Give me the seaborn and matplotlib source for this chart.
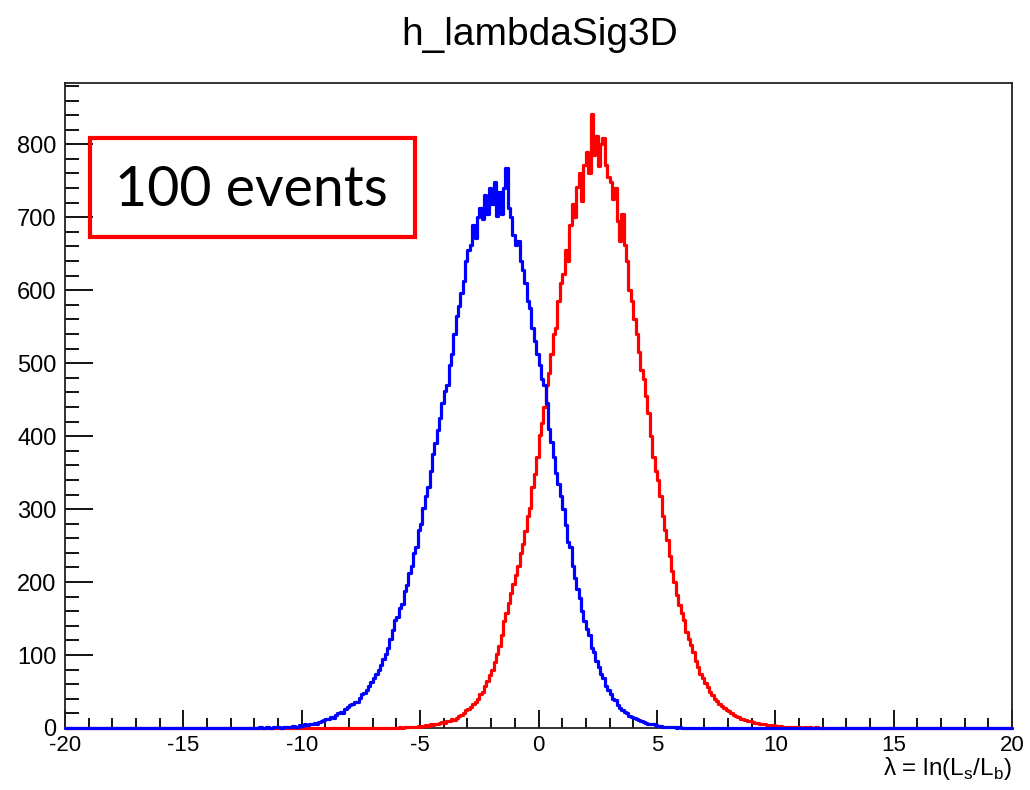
import numpy as np
import pandas as pd
import matplotlib
matplotlib.use('Agg')
import matplotlib.pyplot as plt
import matplotlib.patches as patches
from matplotlib.ticker import MultipleLocator
import seaborn as sns

# Histograma h_lambdaSig3D: 400 bins de largura 0.1 entre -20 e 20
x_min, x_max, n_bins = -20.0, 20.0, 400

# Contagens (bins com conteúdo; o resto é zero)
bkg_start = -12.0
bkg_counts = [
    0, 0, 1, 0, 0, 1, 0, 0, 1, 1,
    1, 0, 2, 1, 2, 1, 3, 2, 2, 4,
    3, 5, 4, 6, 5, 7, 6, 8, 9, 11,
    12, 13, 15, 14, 18, 20, 22, 21, 26, 29,
    31, 33, 36, 35, 41, 46, 48, 52, 57, 63,
    68, 74, 80, 86, 94, 101, 110, 122, 134, 148,
    152, 165, 170, 188, 196, 212, 222, 240, 248, 272,
    280, 302, 318, 330, 352, 376, 390, 408, 425, 446,
    462, 470, 498, 512, 540, 565, 578, 596, 612, 640,
    655, 662, 690, 672, 700, 712, 698, 730, 705, 740,
    718, 748, 702, 735, 705, 740, 768, 712, 700, 676,
    662, 668, 640, 628, 610, 585, 575, 548, 530, 512,
    498, 478, 470, 445, 410, 392, 372, 350, 335, 318,
    300, 278, 255, 248, 222, 206, 190, 178, 160, 146,
    136, 128, 110, 104, 92, 84, 74, 68, 58, 52,
    46, 40, 38, 32, 28, 25, 22, 20, 17, 15,
    14, 12, 11, 9, 8, 7, 6, 5, 5, 4,
    3, 3, 2, 2, 1, 2, 1, 1, 0, 1,
]

sig_start = -6.0
sig_counts = [
    0, 1, 0, 1, 1, 2, 1, 2, 2, 3,
    2, 3, 4, 3, 5, 4, 6, 5, 7, 8,
    7, 9, 10, 12, 11, 14, 16, 18, 21, 24,
    26, 29, 33, 36, 40, 46, 50, 58, 64, 72,
    80, 90, 102, 112, 128, 146, 158, 172, 185, 198,
    210, 222, 240, 252, 270, 290, 302, 330, 348, 372,
    402, 418, 440, 470, 486, 512, 540, 548, 585, 610,
    622, 655, 640, 690, 718, 700, 742, 760, 722, 772,
    790, 760, 842, 785, 812, 770, 800, 808, 772, 755,
    748, 725, 740, 695, 668, 705, 662, 640, 600, 585,
    560, 540, 515, 490, 478, 455, 432, 400, 372, 352,
    340, 318, 290, 272, 258, 236, 215, 200, 182, 168,
    158, 148, 132, 122, 114, 104, 92, 84, 74, 68,
    62, 56, 50, 45, 40, 37, 33, 30, 27, 25,
    23, 21, 18, 17, 15, 13, 12, 11, 10, 9,
    8, 7, 7, 6, 5, 5, 4, 4, 3, 4,
    3, 2, 3, 2, 2, 1, 2, 1, 1, 1,
    1, 0, 1, 0, 1, 0, 0, 1, 0, 0,
]

width = (x_max - x_min) / n_bins
centers = x_min + width * (np.arange(n_bins) + 0.5)


def full_hist(start, counts):
    h = np.zeros(n_bins)
    i0 = int(round((start - x_min) / width))
    h[i0:i0 + len(counts)] = counts
    return h


df = pd.DataFrame({
    'lam': np.concatenate([centers, centers]),
    'n': np.concatenate([full_hist(sig_start, sig_counts), full_hist(bkg_start, bkg_counts)]),
    'hyp': ['sig'] * n_bins + ['bkg'] * n_bins,
})

sns.set_style('ticks')
plt.rcParams['font.family'] = ['Liberation Sans', 'DejaVu Sans']
plt.rcParams['mathtext.fontset'] = 'custom'
plt.rcParams['mathtext.rm'] = 'Liberation Sans'
plt.rcParams['axes.unicode_minus'] = False
plt.rcParams['text.color'] = 'black'
plt.rcParams['xtick.color'] = 'black'
plt.rcParams['ytick.color'] = 'black'

fig = plt.figure(figsize=(10.3, 7.9), dpi=100)
ax = fig.add_axes([65 / 1030, 1 - 728 / 790, (1012 - 65) / 1030, (728 - 83) / 790])

# vermelho primeiro, azul por cima (como no original)
for hyp, col in [('sig', '#ff0000'), ('bkg', '#0000ff')]:
    sub = df[df['hyp'] == hyp].reset_index(drop=True)
    sns.histplot(data=sub, x='lam', weights='n', binwidth=width, binrange=(x_min, x_max),
                 element='step', fill=False, color=col, linewidth=2.3, ax=ax, zorder=3)

for ln in ax.lines:
    ln.set_clip_on(False)
for c in ax.collections:
    c.set_clip_on(False)

ax.set_xlim(x_min, x_max)
ax.set_ylim(0, 884)
ax.set_xlabel('')
ax.set_ylabel('')

ax.xaxis.set_major_locator(MultipleLocator(5))
ax.xaxis.set_minor_locator(MultipleLocator(1))
ax.yaxis.set_major_locator(MultipleLocator(100))
ax.yaxis.set_minor_locator(MultipleLocator(20))
ax.tick_params(axis='both', which='both', direction='in', color='black',
               labelcolor='black', top=False, right=False, labelsize=17)
ax.tick_params(axis='y', which='major', length=20, width=1.3, pad=6)
ax.tick_params(axis='y', which='minor', length=10, width=1.3)
ax.tick_params(axis='x', which='major', length=13, width=1.3, pad=5, labelsize=16)
ax.tick_params(axis='x', which='minor', length=7, width=1.3)
for s in ax.spines.values():
    s.set_linewidth(1.3)
    s.set_color('#222222')

fig.text(540 / 1030, 1 - 35 / 790, 'h_lambdaSig3D', ha='center', va='center', fontsize=28)
fig.text(1012 / 1030, 1 - 775 / 790, r'λ = ln(L$_\mathregular{s}$/L$_\mathregular{b}$)',
         ha='right', va='baseline', fontsize=17.5)

# caixa "100 events"
box = patches.Rectangle((90 / 1030, 1 - 237 / 790), 325 / 1030, 99 / 790,
                        transform=fig.transFigure, fill=False, edgecolor='#ff0000',
                        linewidth=3, zorder=5)
fig.patches.append(box)
fig.text(251 / 1030, 1 - 190 / 790, '100 events', ha='center', va='center',
         fontsize=40, family=['Lato', 'DejaVu Sans'], color='black', zorder=6)

fig.savefig('out.png', dpi=100)
